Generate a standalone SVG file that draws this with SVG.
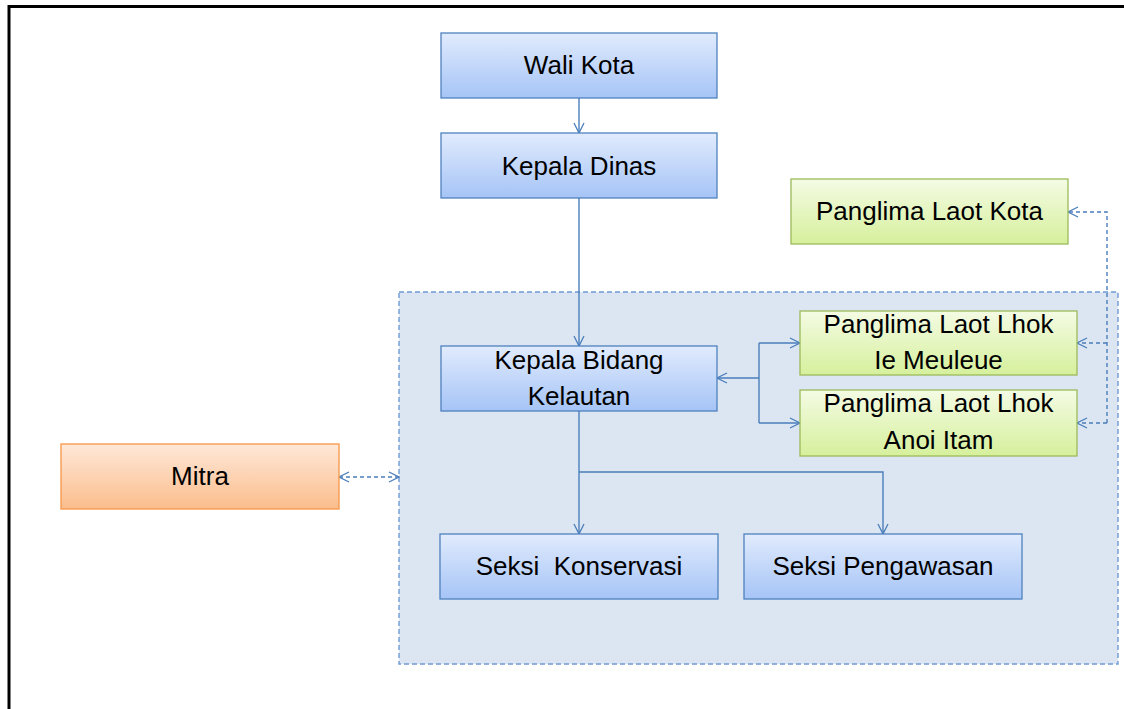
<svg xmlns="http://www.w3.org/2000/svg" width="1124" height="709" viewBox="0 0 1124 709">
<style>
text{font-family:"Liberation Sans",Arial,sans-serif;font-size:26px;fill:#000;text-anchor:middle}
.blue{fill:url(#gBlue);stroke:#4f81bd;stroke-width:1.3}
.green{fill:url(#gGreen);stroke:#9bbb59;stroke-width:1.3}
.orange{fill:url(#gOrange);stroke:#f79646;stroke-width:1.3}
.c{fill:none;stroke:#4a7ebb;stroke-width:1.4}
.d{fill:none;stroke:#4a7ebb;stroke-width:1.4;stroke-dasharray:4 3}
</style>
<defs>
<linearGradient id="gBlue" x1="0" y1="0" x2="0" y2="1"><stop offset="0" stop-color="#e1ebfd"/><stop offset="1" stop-color="#a5c4f6"/></linearGradient>
<linearGradient id="gGreen" x1="0" y1="0" x2="0" y2="1"><stop offset="0" stop-color="#f4fbe4"/><stop offset="1" stop-color="#d6f09c"/></linearGradient>
<linearGradient id="gOrange" x1="0" y1="0" x2="0" y2="1"><stop offset="0" stop-color="#fee8d8"/><stop offset="1" stop-color="#fbbd8c"/></linearGradient>
<marker id="arr" viewBox="0 0 12 12" refX="11" refY="6" markerWidth="12" markerHeight="12" markerUnits="userSpaceOnUse" orient="auto-start-reverse"><path d="M1,1 L11,6 L1,11" fill="none" stroke="#4a7ebb" stroke-width="1.3"/></marker>
</defs>
<rect x="0" y="0" width="1124" height="709" fill="#fff"/>
<rect x="9" y="6.5" width="1300" height="900" fill="none" stroke="#000" stroke-width="3"/>
<g id="container"><rect x="399" y="292" width="719" height="372" fill="#dce6f2" stroke="#6f9bd4" stroke-width="1.4" stroke-dasharray="5 3"/></g>
<g id="connectors">
<path class="c" d="M579,98 V133" marker-end="url(#arr)"/>
<path class="c" d="M579,198 V346" marker-end="url(#arr)"/>
<path class="c" d="M759,378 H717" marker-end="url(#arr)"/>
<path class="c" d="M759,343 V423"/>
<path class="c" d="M759,343 H800" marker-end="url(#arr)"/>
<path class="c" d="M759,423 H800" marker-end="url(#arr)"/>
<path class="c" d="M579,411 V534" marker-end="url(#arr)"/>
<path class="c" d="M579,472 H883 V534" marker-end="url(#arr)"/>
<path class="d" d="M1107,423 V212 H1068" marker-end="url(#arr)"/>
<path class="d" d="M1107,343 H1077" marker-end="url(#arr)"/>
<path class="d" d="M1107,423 H1077" marker-end="url(#arr)"/>
<path class="d" d="M339,477 H399" marker-start="url(#arr)" marker-end="url(#arr)"/>
</g>
<g id="wali-kota"><rect class="blue" x="441" y="33" width="276" height="65"/><text x="579" y="74">Wali Kota</text></g>
<g id="kepala-dinas"><rect class="blue" x="441" y="133" width="276" height="65"/><text x="579" y="175">Kepala Dinas</text></g>
<g id="kepala-bidang"><rect class="blue" x="441" y="346" width="276" height="65"/><text x="579" y="369">Kepala Bidang</text><text x="579" y="405">Kelautan</text></g>
<g id="panglima-kota"><rect class="green" x="791" y="179" width="277" height="65"/><text x="929.5" y="220">Panglima Laot Kota</text></g>
<g id="panglima-ie-meuleue"><rect class="green" x="800" y="311" width="277" height="64"/><text x="938.5" y="333">Panglima Laot Lhok</text><text x="938.5" y="369">Ie Meuleue</text></g>
<g id="panglima-anoi-itam"><rect class="green" x="800" y="390" width="277" height="66"/><text x="938.5" y="412">Panglima Laot Lhok</text><text x="938.5" y="449">Anoi Itam</text></g>
<g id="mitra"><rect class="orange" x="61" y="444" width="278" height="65"/><text x="200" y="485">Mitra</text></g>
<g id="seksi-konservasi"><rect class="blue" x="440" y="534" width="278" height="65"/><text x="579" y="575" style="white-space:pre" xml:space="preserve">Seksi  Konservasi</text></g>
<g id="seksi-pengawasan"><rect class="blue" x="744" y="534" width="278" height="65"/><text x="883" y="575">Seksi Pengawasan</text></g>
</svg>
